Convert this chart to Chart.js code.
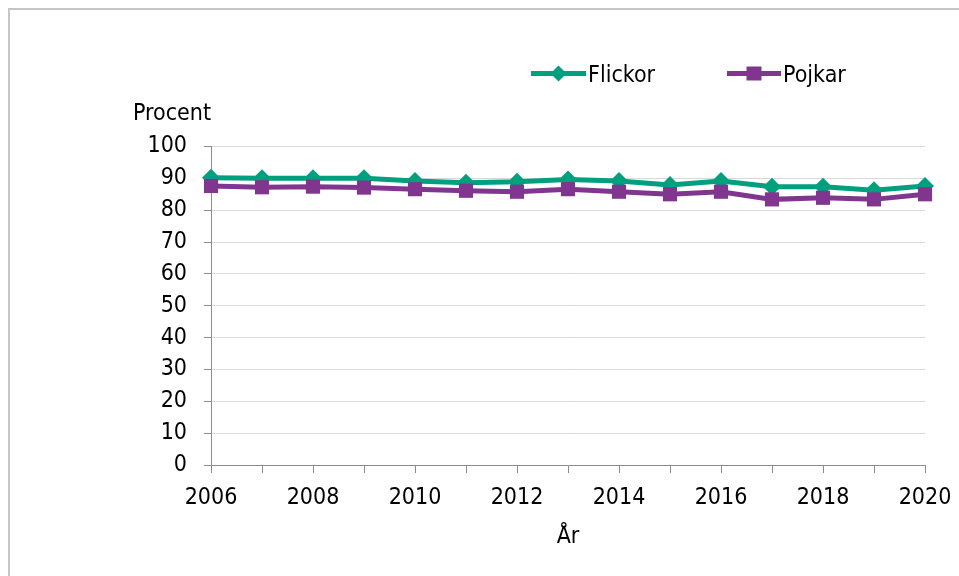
<!DOCTYPE html>
<html><head><meta charset="utf-8">
<script src="https://cdn.jsdelivr.net/npm/chart.js@4"></script>
<style>
html,body{margin:0;padding:0;background:#fff;overflow:hidden;}
#wrap{position:relative;width:959px;height:576px;overflow:hidden;background:#fff;}
#frame{position:absolute;left:8px;top:8px;width:1000px;height:1000px;border-left:2px solid #c6c6c6;border-top:2px solid #c6c6c6;}
canvas{position:absolute;left:0;top:0;}
</style></head><body>
<div id="wrap"><div id="frame"></div><canvas id="c" width="959" height="576"></canvas></div>
<script>
const years = [2006,2007,2008,2009,2010,2011,2012,2013,2014,2015,2016,2017,2018,2019,2020];
const flickor = [90.2,90.0,90.0,90.0,89.2,88.6,88.9,89.6,89.2,87.9,89.2,87.4,87.4,86.3,87.6];
const pojkar  = [87.6,87.2,87.4,87.1,86.6,86.1,85.8,86.6,85.8,85.0,85.8,83.4,83.9,83.4,85.0];
const seriesNames = ['Flickor','Pojkar'];
const yTitle = 'Procent';
const xTitle = 'År';

const GREEN = '#00A07E';
const PURPLE = '#80368F';
const FAMILY = '"DejaVu Sans Condensed", "DejaVu Sans", sans-serif';
const AXIS = '#8c8c8c';

const overlay = {
  id: 'overlay',
  afterDraw(chart) {
    const ctx = chart.ctx;
    ctx.save();
    ctx.font = '23px ' + FAMILY;
    ctx.fillStyle = '#000';
    ctx.textBaseline = 'alphabetic';
    ctx.textAlign = 'left';
    ctx.fillText(yTitle, 133, 120);
    const items = [
      {x0: 531, x1: 586, tx: 588, ds: chart.data.datasets[1]},
      {x0: 727, x1: 781, tx: 783, ds: chart.data.datasets[0]}
    ];
    items.forEach(it => {
      const ds = it.ds, y = 73.5;
      ctx.strokeStyle = ds.borderColor;
      ctx.lineWidth = 5;
      ctx.lineCap = 'butt';
      ctx.beginPath(); ctx.moveTo(it.x0, y); ctx.lineTo(it.x1, y); ctx.stroke();
      ctx.fillStyle = ds.borderColor;
      const cx = (it.x0 + it.x1) / 2;
      ctx.beginPath();
      if (ds.pointStyle === 'rectRot') {
        ctx.moveTo(cx - 8, y); ctx.lineTo(cx, y - 8); ctx.lineTo(cx + 8, y); ctx.lineTo(cx, y + 8);
      } else {
        ctx.rect(cx - 7.5, y - 7, 15, 14);
      }
      ctx.closePath(); ctx.fill();
      ctx.fillStyle = '#000';
      ctx.fillText(ds.label, it.tx, 82);
    });
    ctx.restore();
  }
};

Chart.defaults.font.family = FAMILY;
Chart.defaults.font.size = 23;
Chart.defaults.color = '#000';

new Chart(document.getElementById('c'), {
  type: 'line',
  data: {
    labels: years.map(String),
    datasets: [
      {label: seriesNames[1], data: pojkar, borderColor: PURPLE, backgroundColor: PURPLE,
       borderWidth: 5, pointStyle: 'rect', pointRadius: 10, pointBorderWidth: 0,
       pointBackgroundColor: PURPLE, tension: 0, order: 0, clip: false},
      {label: seriesNames[0], data: flickor, borderColor: GREEN, backgroundColor: GREEN,
       borderWidth: 5, pointStyle: 'rectRot', pointRadius: 9, pointBorderWidth: 0,
       pointBackgroundColor: GREEN, tension: 0, order: 1, clip: false}
    ]
  },
  options: {
    responsive: false,
    animation: false,
    events: [],
    layout: {autoPadding: false, padding: {left: 0, top: 146.5, right: 34, bottom: 0}},
    plugins: {legend: {display: false}, tooltip: {enabled: false}, title: {display: false}},
    scales: {
      x: {
        type: 'category',
        offset: false,
        afterFit(s) { s.height = 111; s.paddingLeft = 0; s.paddingRight = 0; },
        grid: {drawOnChartArea: false, drawTicks: true, tickLength: 8, tickColor: AXIS, lineWidth: 1},
        border: {color: AXIS, width: 1},
        ticks: {autoSkip: false, maxRotation: 0, minRotation: 0, padding: 11,
          font: {size: 23}, color: '#000',
          callback: (v, i) => (years[i] % 2 === 0 ? String(years[i]) : '')},
        title: {display: true, text: xTitle, font: {size: 23}, color: '#000', padding: {top: 0, bottom: 25}}
      },
      y: {
        min: 0, max: 100,
        afterFit(s) { s.width = 211; s.paddingTop = 0; s.paddingBottom = 0; },
        grid: {color: '#d9d9d9', lineWidth: 1, tickLength: 7, tickColor: AXIS},
        border: {color: AXIS, width: 1},
        ticks: {stepSize: 10, padding: 17, font: {size: 23}, color: '#000'}
      }
    }
  },
  plugins: [overlay]
});
</script>
</body></html>
